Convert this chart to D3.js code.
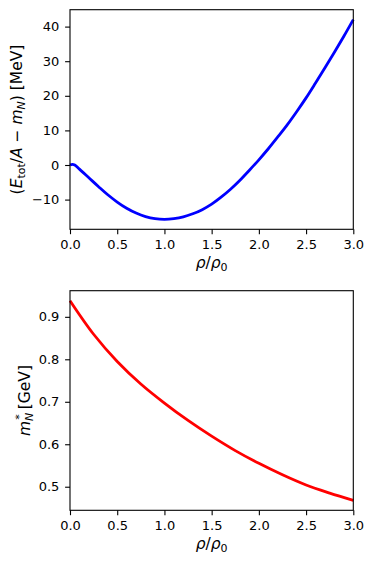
<!DOCTYPE html>
<meta charset="utf-8">
<style>
  body { margin: 0; background: #fff; }
  svg { display: block; font-family: "DejaVu Sans", sans-serif; }
  .axis path.domain { display: none; }
  .axis line { stroke: #000; stroke-width: 1.1; }
  .axis text { font-size: 13px; fill: #000; font-family: "DejaVu Sans", sans-serif; }
  .frame { fill: none; stroke: #000; stroke-width: 1.1; }
  .lbl { font-size: 15.5px; fill: #000; }
</style>
<body></body>
<script src="https://cdn.jsdelivr.net/npm/d3@7"></script>
<script>

// top panel: binding energy per nucleon vs density
var rhoTop = [0, 0.025, 0.05, 0.1, 0.2, 0.3, 0.4, 0.5, 0.6, 0.7, 0.8, 0.9, 1.0,
              1.1, 1.2, 1.3, 1.4, 1.5, 1.6, 1.7, 1.8, 1.9, 2.0, 2.1, 2.2,
              2.3, 2.4, 2.5, 2.6, 2.7, 2.8, 2.9, 3.0];
var energy = [0, 0.2, 0.0, -1.2, -3.7, -6.2, -8.6, -10.7, -12.5, -13.9, -14.9, -15.5, -15.7,
              -15.5, -15.0, -14.1, -12.9, -11.3, -9.3, -7.0, -4.4, -1.5, 1.5, 4.7, 8.1,
              11.6, 15.4, 19.4, 23.7, 28.1, 32.6, 37.2, 42.0];

// bottom panel: effective nucleon mass vs density
var rhoBottom = [0, 0.25, 0.5, 0.75, 1.0, 1.25, 1.5, 1.75, 2.0, 2.25, 2.5, 2.75, 3.0];
var mstar = [0.938, 0.859, 0.795, 0.742, 0.697, 0.656, 0.619, 0.585, 0.555, 0.528, 0.504, 0.485, 0.468];

var xTicks = [0, 0.5, 1.0, 1.5, 2.0, 2.5, 3.0];
var eTicks = [-10, 0, 10, 20, 30, 40];
var mTicks = [0.5, 0.6, 0.7, 0.8, 0.9];

var W = 374, H = 564;
var left = 70, right = 353.3;

var svg = d3.select("body").append("svg")
    .attr("width", W)
    .attr("height", H);

// matplotlib style 5% margins
function padded(vals) {
  var e = d3.extent(vals), p = 0.05 * (e[1] - e[0]);
  return [e[0] - p, e[1] + p];
}

function panel(opts) {
  var x = d3.scaleLinear().domain([0, 3]).range([left, right]);
  var y = d3.scaleLinear().domain(padded(opts.ys)).range([opts.bottom, opts.top]);
  var g = svg.append("g");

  g.append("g").attr("class", "axis")
      .attr("transform", "translate(0," + opts.bottom + ")")
      .call(d3.axisBottom(x).tickValues(xTicks).tickFormat(d3.format(".1f"))
        .tickSize(4.9).tickPadding(6));

  g.append("g").attr("class", "axis")
      .attr("transform", "translate(" + left + ",0)")
      .call(d3.axisLeft(y).tickValues(opts.ticks).tickFormat(d3.format(opts.fmt))
        .tickSize(4.9).tickPadding(5.8));

  var data = opts.xs.map(function(d, i) { return [d, opts.ys[i]]; });

  g.append("path")
      .datum(data)
      .attr("fill", "none")
      .attr("stroke", opts.color)
      .attr("stroke-width", 2.8)
      .attr("d", d3.line()
        .x(function(d) { return x(d[0]); })
        .y(function(d) { return y(d[1]); })
        .curve(d3.curveCatmullRom.alpha(0.5)));

  g.append("rect").attr("class", "frame")
      .attr("x", left).attr("y", opts.top)
      .attr("width", right - left).attr("height", opts.bottom - opts.top);

  // x label: rho / rho_0
  var xl = g.append("text").attr("class", "lbl")
      .attr("x", (left + right) / 2).attr("y", opts.bottom + 39)
      .attr("text-anchor", "middle");
  xl.append("tspan").attr("font-style", "italic").text("ρ");
  xl.append("tspan").text("/");
  xl.append("tspan").attr("font-style", "italic").text("ρ");
  xl.append("tspan").attr("font-size", "11px").attr("dy", 3).text("0");

  var yl = g.append("text").attr("class", "lbl")
      .attr("text-anchor", "middle")
      .attr("transform", "translate(" + opts.labelX + "," + (opts.top + opts.bottom) / 2 + ") rotate(-90)");
  opts.ylabel(yl);
}

panel({
  top: 9.7, bottom: 229.3, xs: rhoTop, ys: energy, ticks: eTicks, fmt: "d",
  color: "#0000ff", labelX: 22,
  ylabel: function(t) {
    t.append("tspan").text("(");
    t.append("tspan").attr("font-style", "italic").text("E");
    t.append("tspan").attr("font-size", "11px").attr("dy", 3).text("tot");
    t.append("tspan").attr("dy", -3).text("/");
    t.append("tspan").attr("font-style", "italic").text("A");
    t.append("tspan").text(" − ");
    t.append("tspan").attr("font-style", "italic").text("m");
    t.append("tspan").attr("font-size", "11px").attr("font-style", "italic").attr("dy", 3).text("N");
    t.append("tspan").attr("dy", -3).text(") [MeV]");
  }
});

panel({
  top: 290.7, bottom: 510.3, xs: rhoBottom, ys: mstar, ticks: mTicks, fmt: ".1f",
  color: "#ff0000", labelX: 30,
  ylabel: function(t) {
    t.append("tspan").attr("font-style", "italic").text("m");
    t.append("tspan").attr("font-size", "11px").attr("font-style", "italic").attr("dy", 3).text("N");
    t.append("tspan").attr("font-size", "11px").attr("dx", -7).attr("dy", -10).text("*");
    t.append("tspan").attr("dy", 7).text(" [GeV]");
  }
});

</script>
